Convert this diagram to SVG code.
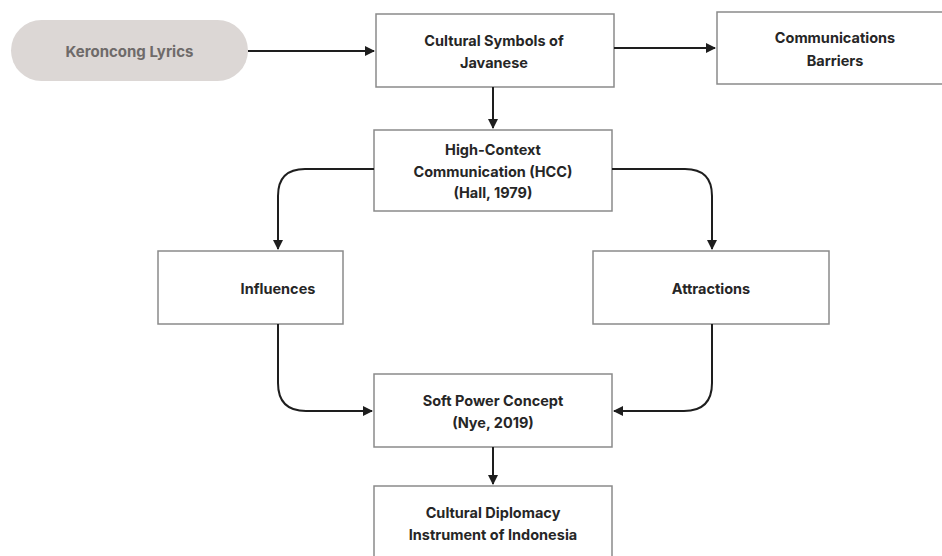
<svg xmlns="http://www.w3.org/2000/svg" width="942" height="556" viewBox="0 0 942 556">
<defs>
<marker id="ah" viewBox="0 0 10 10" refX="9" refY="5" markerWidth="5" markerHeight="5" orient="auto" markerUnits="strokeWidth">
<path d="M0,0 L10,5 L0,10 z" fill="#1e1e1e"/>
</marker>
<style>
.box{fill:#fff;stroke:#8a8a8a;stroke-width:1.5}
.t{font-family:Inter,"Liberation Sans",sans-serif;font-weight:700;font-size:14.5px;fill:#262626;text-anchor:middle;dominant-baseline:central}
.c{fill:none;stroke:#1e1e1e;stroke-width:2;marker-end:url(#ah)}
</style>
</defs>
<rect width="942" height="556" fill="#fff"/>
<g id="keroncong">
<rect x="11" y="20" width="237" height="61" rx="30.5" fill="#dcd7d5"/>
<text class="t" x="129.5" y="51" style="fill:#6e6a69;font-size:15px">Keroncong Lyrics</text>
</g>
<g id="cultural-symbols">
<rect class="box" x="376" y="14" width="238" height="73"/>
<text class="t" x="494" y="40">Cultural Symbols of</text>
<text class="t" x="494" y="62">Javanese</text>
</g>
<g id="barriers">
<rect class="box" x="717" y="12" width="235" height="72"/>
<text class="t" x="835" y="37">Communications</text>
<text class="t" x="835" y="60">Barriers</text>
</g>
<g id="hcc">
<rect class="box" x="374" y="130" width="238" height="81"/>
<text class="t" x="493" y="149">High-Context</text>
<text class="t" x="493" y="171">Communication (HCC)</text>
<text class="t" x="493" y="192">(Hall, 1979)</text>
</g>
<g id="influences">
<rect class="box" x="158" y="251" width="185" height="73"/>
<text class="t" x="278" y="288">Influences</text>
</g>
<g id="attractions">
<rect class="box" x="593" y="251" width="236" height="73"/>
<text class="t" x="711" y="288">Attractions</text>
</g>
<g id="soft-power">
<rect class="box" x="374" y="374" width="238" height="73"/>
<text class="t" x="493" y="400">Soft Power Concept</text>
<text class="t" x="493" y="422">(Nye, 2019)</text>
</g>
<g id="diplomacy">
<rect class="box" x="374" y="486" width="238" height="74"/>
<text class="t" x="493" y="512">Cultural Diplomacy</text>
<text class="t" x="493" y="534">Instrument of Indonesia</text>
</g>
<g id="connectors">
<path class="c" d="M248,51 L374,51"/>
<path class="c" d="M614,48 L715,48"/>
<path class="c" d="M493,87 L493,128"/>
<path class="c" d="M374,169 L305,169 Q278,169 278,196 L278,249"/>
<path class="c" d="M612,169 L685,169 Q712,169 712,196 L712,249"/>
<path class="c" d="M278,324 L278,383 Q278,411 306,411 L372,411"/>
<path class="c" d="M712,324 L712,383 Q712,411 684,411 L614,411"/>
<path class="c" d="M493,447 L493,484"/>
</g>
</svg>
